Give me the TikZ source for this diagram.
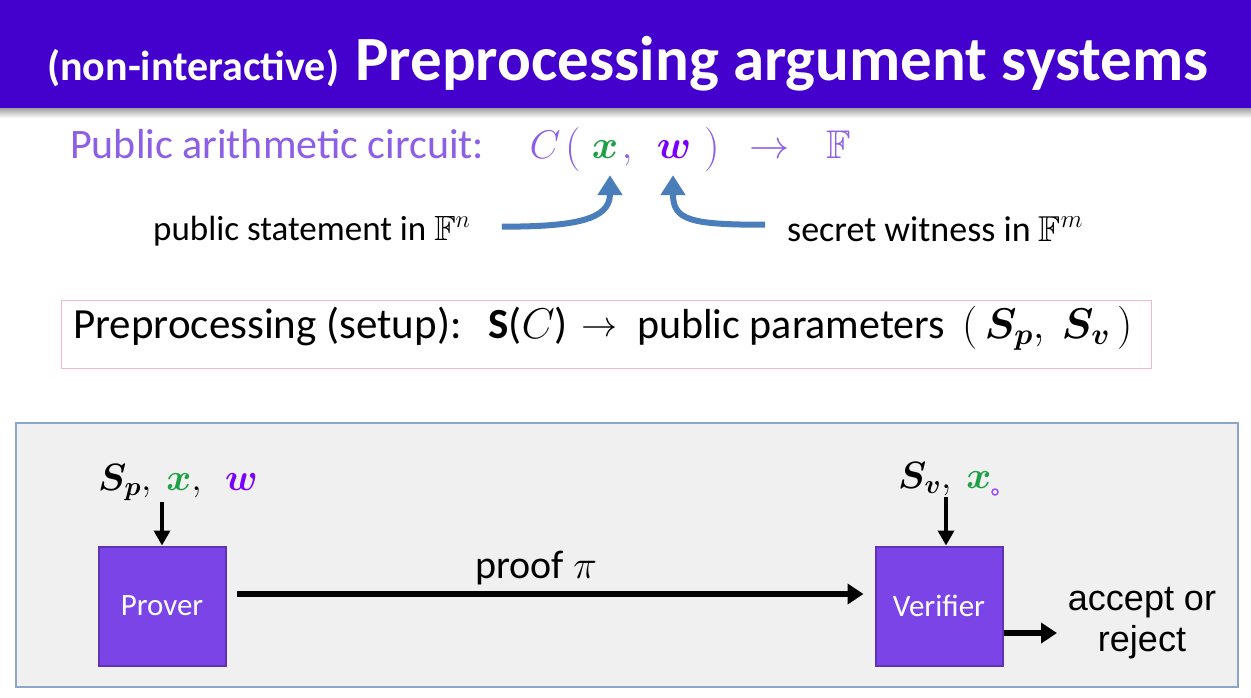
\documentclass[tikz,border=0pt]{standalone}
\usepackage{fix-cm}
\usepackage{amsmath, amsfonts, amssymb}
\usepackage{fontspec}
\setmainfont{Carlito}
\newfontfamily\arialfont{Liberation Sans}
\usepackage{xcolor}
\usepackage{tikz}
\usetikzlibrary{positioning, arrows.meta}

\definecolor{titlebar}{RGB}{68,0,204}
\definecolor{lavender}{RGB}{140,95,230}
\definecolor{xgreen}{RGB}{30,160,70}
\definecolor{wpurple}{RGB}{120,0,255}
\definecolor{boxfill}{RGB}{123,68,230}
\definecolor{boxedge}{RGB}{95,50,185}
\definecolor{arrowblue}{RGB}{74,126,187}
\definecolor{panelfill}{RGB}{240,240,240}
\definecolor{paneledge}{RGB}{140,165,200}
\definecolor{pinkedge}{RGB}{245,185,205}

\newcommand{\fsz}[1]{\fontsize{#1}{#1}\selectfont}

\begin{document}
\begin{tikzpicture}[x=1pt,y=-1pt]
						\tikzstyle{agent}=[rectangle,draw=boxedge,line width=2pt,fill=boxfill,text=white,minimum width=127pt,minimum height=119pt,font=\fsz{31}]
						\tikzstyle{feed}=[-{Triangle[length=15pt,width=16pt]},line width=3.5pt]
						\tikzstyle{bigarrow}=[-{Triangle[length=16pt,width=20pt]},line width=6pt]
						\tikzstyle{bluearrow}=[-{Triangle[length=20pt,width=24pt]},line width=6pt,draw=arrowblue]
						\tikzstyle{formula}=[anchor=base,text=lavender,font=\fsz{40}]
						\tikzstyle{words}=[anchor=base west,inner sep=0pt]
						\useasboundingbox (0,0) rectangle (1251,697);
						\fill[white] (0,0) rectangle (1251,697);
						% title bar
						\shade[top color=black!45,bottom color=white] (0,106) rectangle (1251,118);
						\fill[titlebar] (0,0) rectangle (1251,108);
						\node[words,text=white,font=\fsz{42}\bfseries] (nonint) at (47,80) {(non-interactive)};
						\node[words,text=white,font=\fsz{63}\bfseries] (title) at (355,80) {Preprocessing argument systems};
						% circuit
						\node[words,text=lavender,font=\fsz{42}] (circuit) at (70,158) {Public arithmetic circuit:};
						\node[formula] (cname) at (545,158) {$C$};
						\node[formula,font=\fsz{44}] (lparen) at (573,160) {$($};
						\node[formula,text=xgreen,inner sep=0pt] (xv) at (605,158) {$\boldsymbol{x}$};
						\node[formula] (comma) at (627,158) {$,$};
						\node[formula,text=wpurple,inner sep=0pt] (wv) at (674,158) {$\boldsymbol{w}$};
						\node[formula,font=\fsz{44}] (rparen) at (712,160) {$)$};
						\node[formula] (maps) at (769,158) {$\rightarrow$};
						\node[formula] (field) at (839,158) {$\mathbb{F}$};
						\node[words,font=\fsz{35}] (stmt) at (153,240) {public statement in $\mathbb{F}^n$};
						\node[words,font=\fsz{36}] (secret) at (787,241) {secret witness in $\mathbb{F}^m$};
						\draw[bluearrow] ([shift={(31,-4)}]stmt.east) .. controls +(72,0) and +(0,45) .. ([shift={(5,17)}]xv.south);
						\draw[bluearrow] ([shift={(-22,-4)}]secret.west) .. controls +(-75,0) and +(0,45) .. ([shift={(-1,17)}]wv.south);
						% setup
						\node[draw=pinkedge,line width=1pt,minimum width=1090pt,minimum height=68pt] (setupbox) at (606,334) {};
						\node[words,font=\fsz{43}] (setup) at (73,338) {Preprocessing (setup):};
						\node[words,font=\fsz{43}] (scirc) at (488,338) {\textbf{S}($C$)};
						\node[words,font=\fsz{36}] (sarrow) at (581,336) {$\rightarrow$};
						\node[words,font=\fsz{42}] (params) at (637,338) {public parameters};
						\node[words,font=\fsz{43}] (spv) at (962,338) {$(\,\boldsymbol{S_p},\ \boldsymbol{S_v}\,)$};
						% prover and verifier
						\draw[fill=panelfill,draw=paneledge,line width=1.2pt] (16,423) rectangle (1238,687);
						\node[agent] (prover) at (162,606) {Prover};
						\node[agent] (verifier) at (939,606) {Verifier};
						\node[anchor=base west,font=\fsz{38},inner sep=1pt] (pin) at (97,490) {$\boldsymbol{S_p},\ {\color{xgreen}\boldsymbol{x}},\ \ {\color{wpurple}\boldsymbol{w}}$};
						\node[anchor=base west,font=\fsz{38},inner sep=1pt] (vin) at (897,488) {$\boldsymbol{S_v},\ {\color{xgreen}\boldsymbol{x}}$};
						\coordinate (vtop) at ([xshift=7pt]verifier.north);
						\node[font=\arialfont\fontsize{36}{41}\selectfont,align=center] (verdict) at (1142,623) {accept or\\reject};
						\coordinate (outtip) at (1057,633);
						\draw[feed] (prover.north |- pin.south) -- (prover.north);
						\draw[feed] (vtop |- vin.south) -- (vtop);
						\draw[bigarrow] ([shift={(10,-12)}]prover.east) -- node[pos=0.478,above=3pt,font=\fsz{40}] (prooflbl) {proof $\pi$} ([shift={(-11,-12)}]verifier.west);
						\draw[bigarrow] (verifier.east |- outtip) -- (outtip);
						\draw[wpurple!70,line width=1.5pt] (995,492) circle[radius=3pt];
					\end{tikzpicture}
\end{document}
